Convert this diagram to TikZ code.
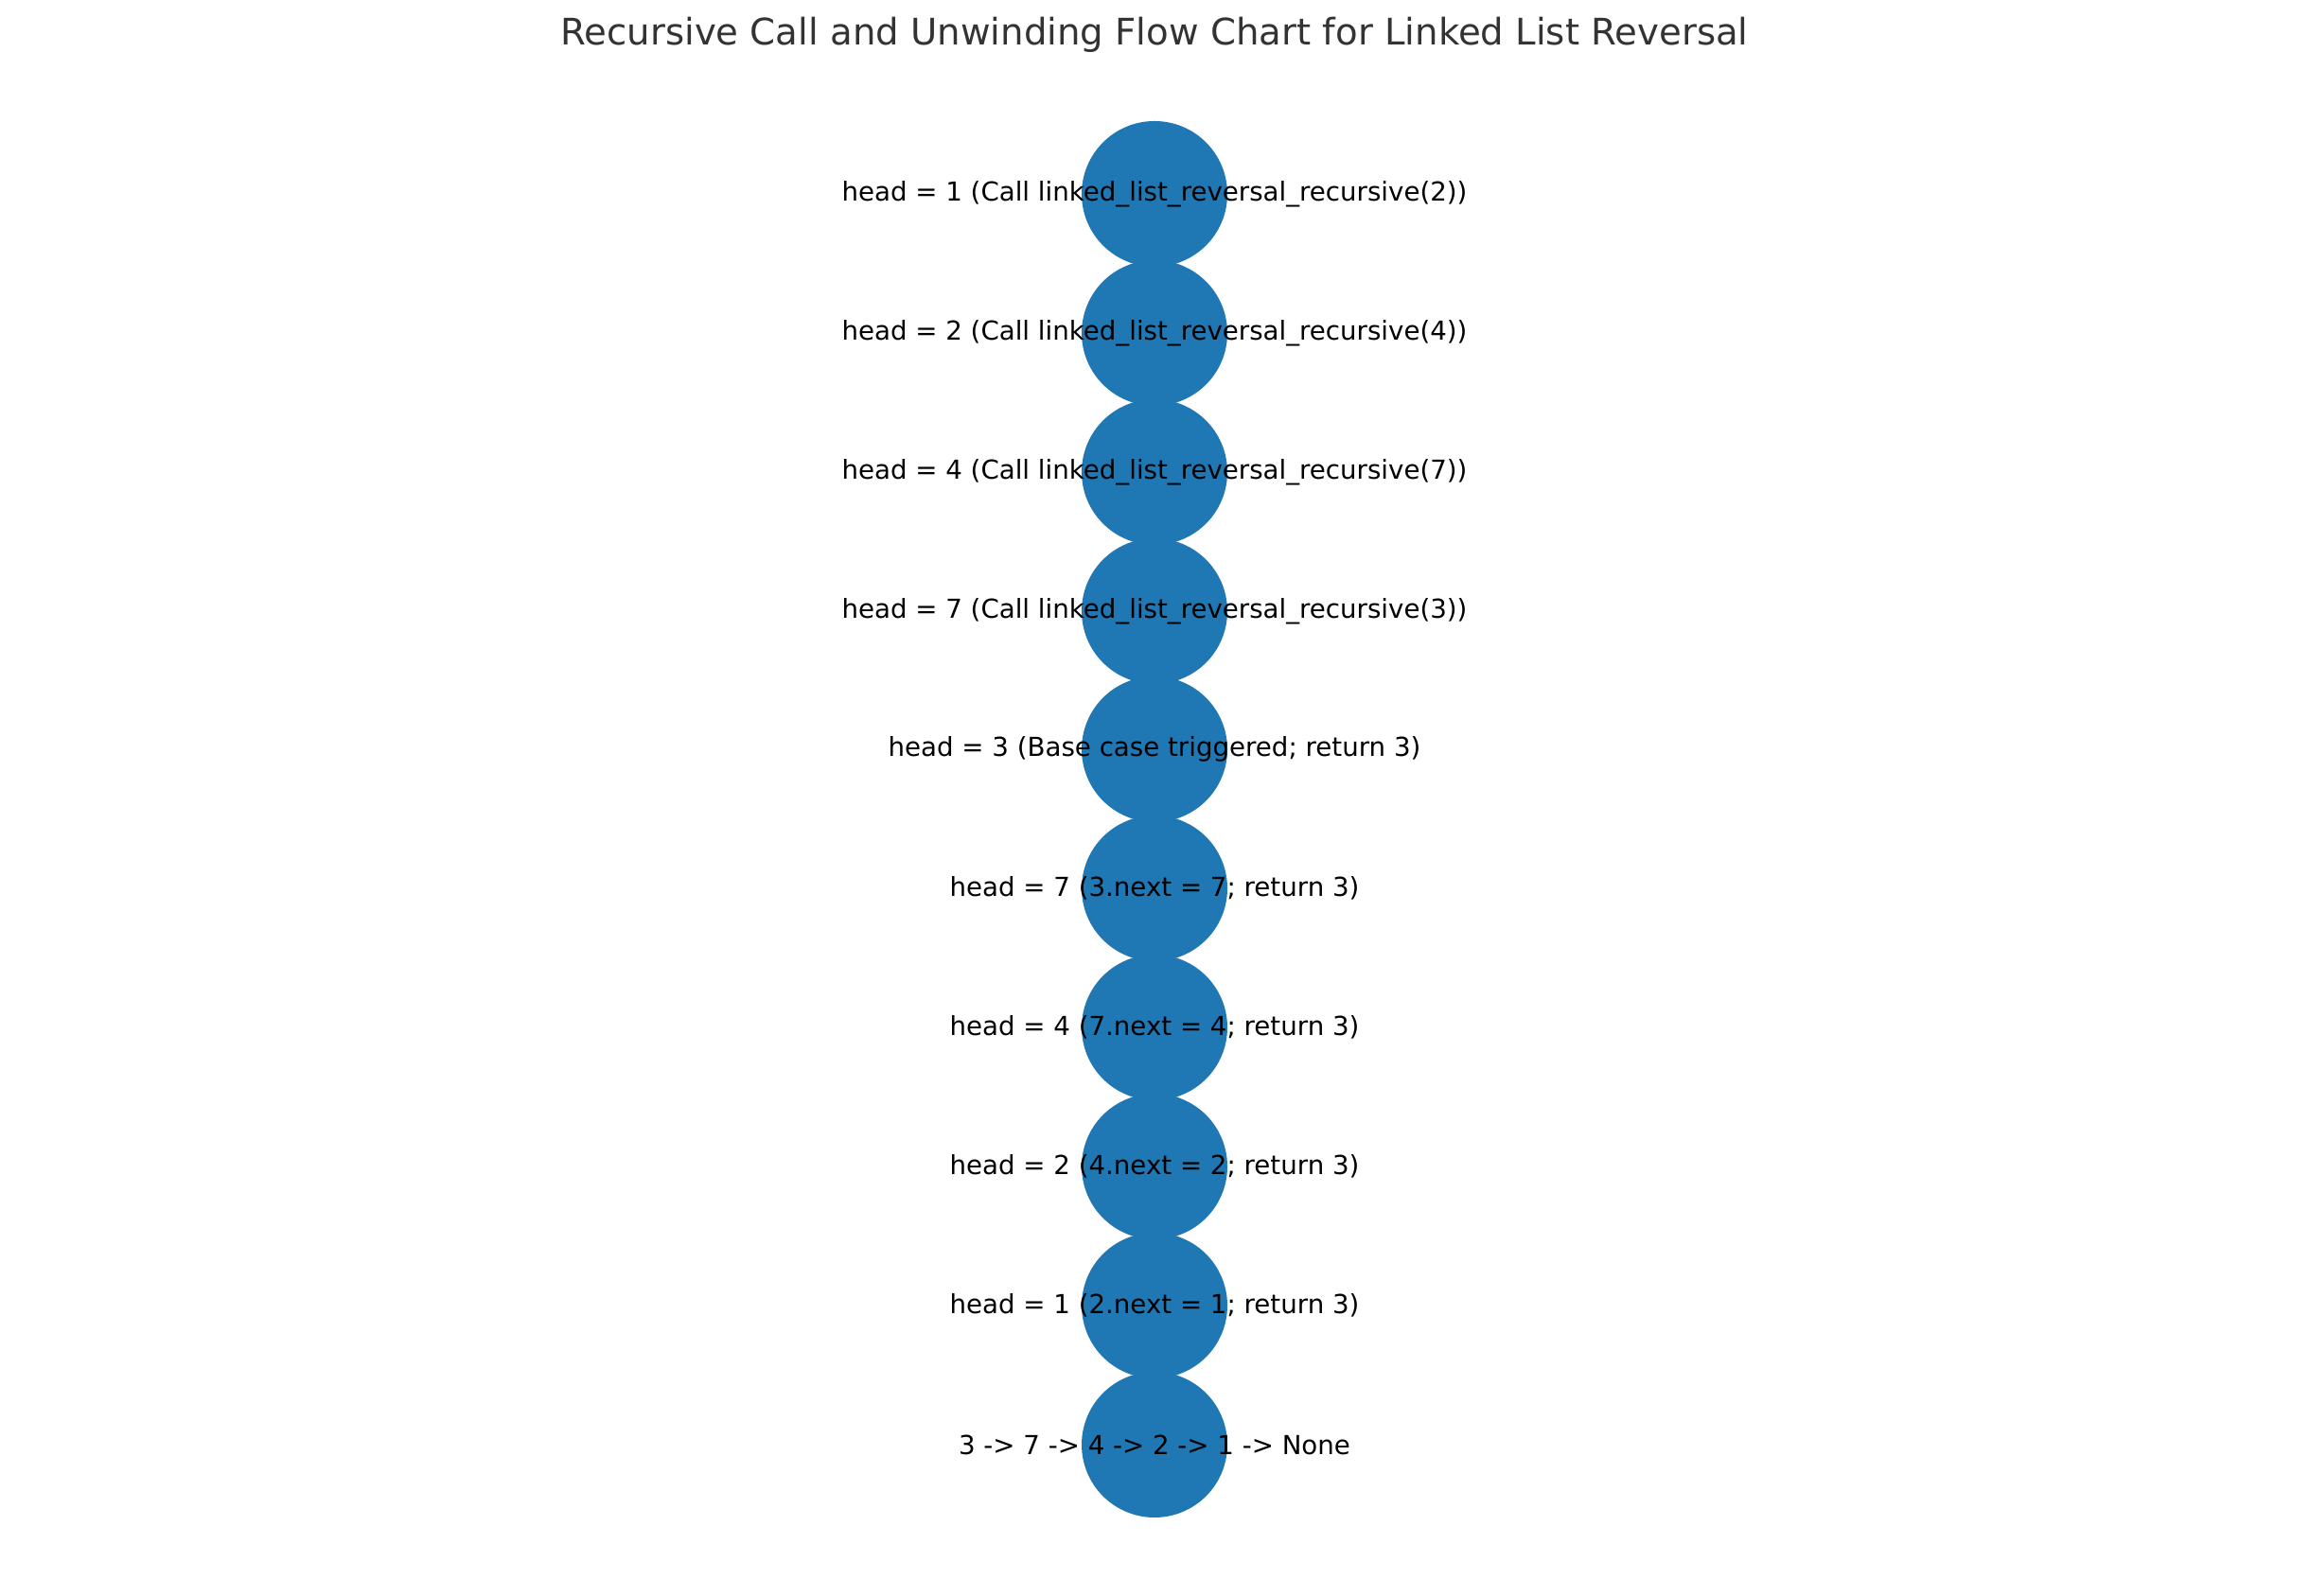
\documentclass[tikz,border=0pt]{standalone}
\usepackage{fontspec}
\setmainfont{DejaVu Sans}
\usetikzlibrary{positioning}
\definecolor{mplblue}{RGB}{31,119,180}
\definecolor{titlegray}{RGB}{51,51,51}
\tikzset{
  frame/.style={circle,fill=mplblue,minimum size=1.54cm,inner sep=0pt},
  flab/.style={font=\fontsize{7.87}{9}\selectfont,text=black,inner sep=0pt},
  ttl/.style={font=\fontsize{11}{13}\selectfont,text=titlegray,inner sep=0pt}
}
\begin{document}
\begin{tikzpicture}
  \useasboundingbox (0,0) rectangle (24.4,16.86);
  \node[ttl] (title) at (12.2,16.49) {Recursive Call and Unwinding Flow Chart for Linked List Reversal};
  % call frames, top to bottom
  \node[frame] (f1) at (12.2,14.81) {};
  \node[frame] (f2) at (12.2,13.34) {};
  \node[frame] (f3) at (12.2,11.87) {};
  \node[frame] (f4) at (12.2,10.40) {};
  \node[frame] (f5) at (12.2,8.94) {};
  \node[frame] (f6) at (12.2,7.47) {};
  \node[frame] (f7) at (12.2,6.00) {};
  \node[frame] (f8) at (12.2,4.53) {};
  \node[frame] (f9) at (12.2,3.06) {};
  \node[frame] (f10) at (12.2,1.59) {};
  % labels
  \node[flab] (l1) at (f1) {head = 1 (Call linked\_list\_reversal\_recursive(2))};
  \node[flab] (l2) at (f2) {head = 2 (Call linked\_list\_reversal\_recursive(4))};
  \node[flab] (l3) at (f3) {head = 4 (Call linked\_list\_reversal\_recursive(7))};
  \node[flab] (l4) at (f4) {head = 7 (Call linked\_list\_reversal\_recursive(3))};
  \node[flab] (l5) at (f5) {head = 3 (Base case triggered; return 3)};
  \node[flab] (l6) at (f6) {head = 7 (3.next = 7; return 3)};
  \node[flab] (l7) at (f7) {head = 4 (7.next = 4; return 3)};
  \node[flab] (l8) at (f8) {head = 2 (4.next = 2; return 3)};
  \node[flab] (l9) at (f9) {head = 1 (2.next = 1; return 3)};
  \node[flab] (l10) at (f10) {3 -> 7 -> 4 -> 2 -> 1 -> None};
\end{tikzpicture}
\end{document}
